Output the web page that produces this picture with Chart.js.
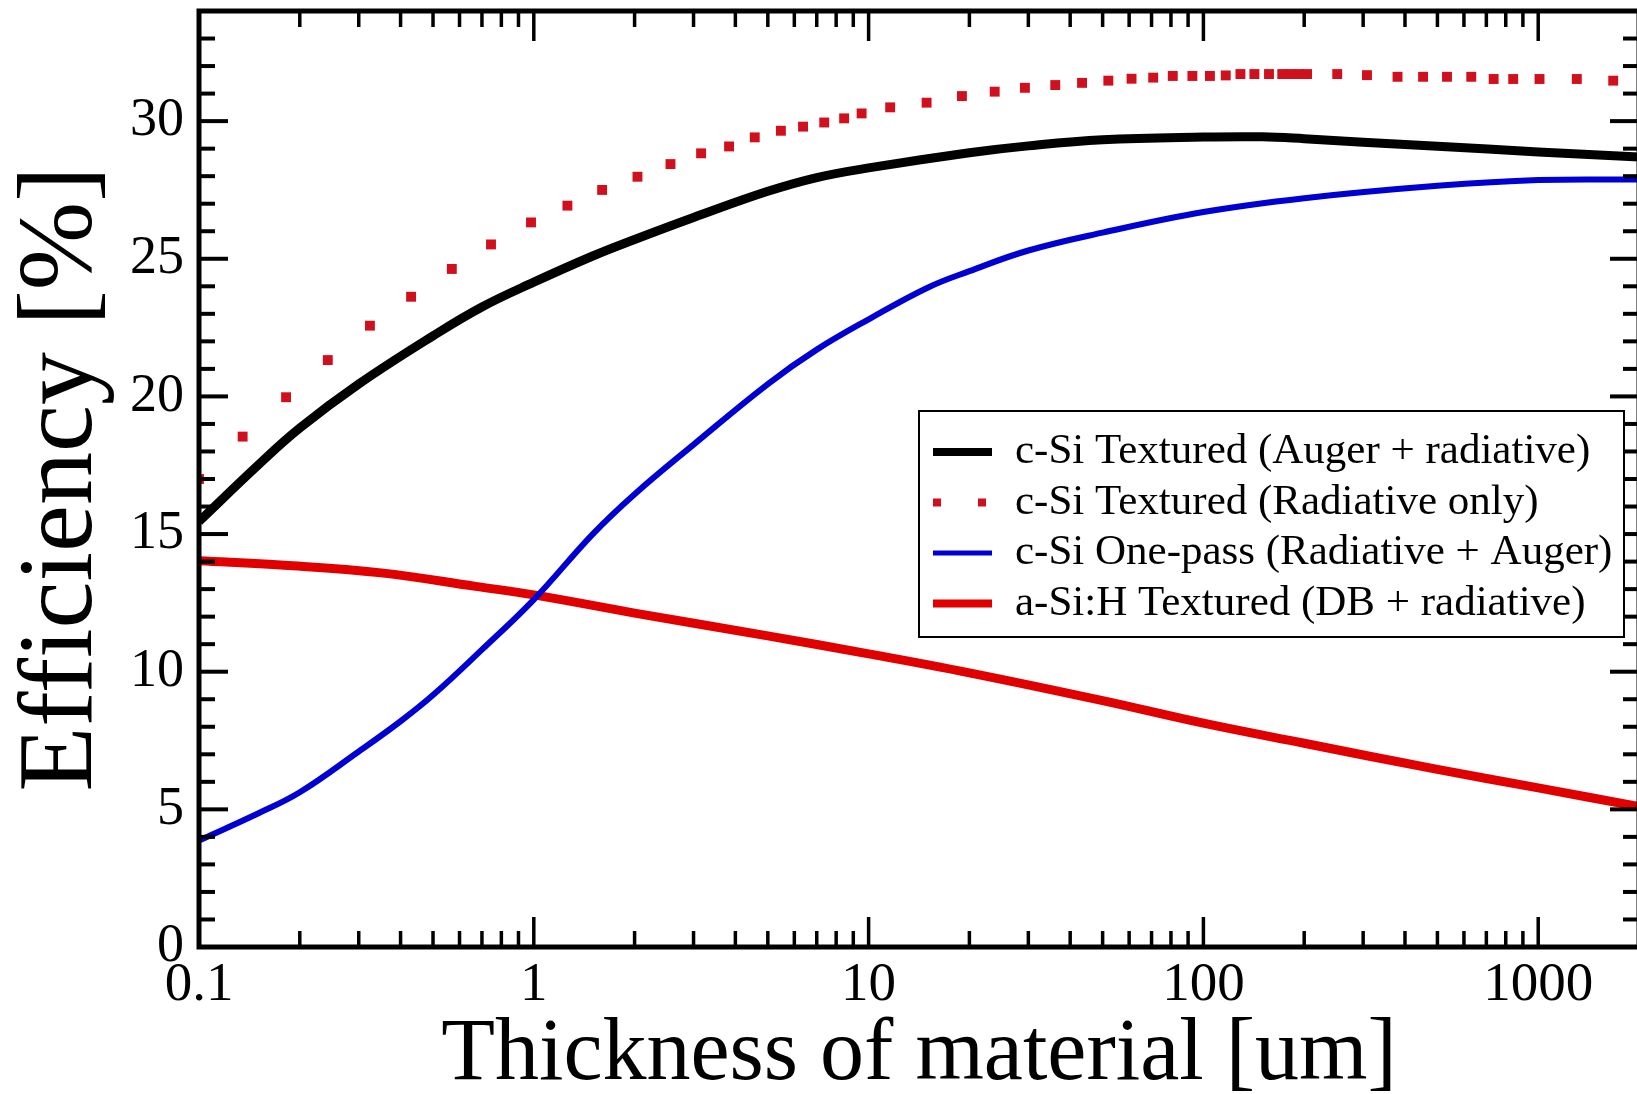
<!DOCTYPE html>
<html>
<head>
<meta charset="utf-8">
<title>Efficiency vs thickness of material</title>
<script src="https://cdn.jsdelivr.net/npm/chart.js@4.4.1/dist/chart.umd.min.js"></script>
<style>
  html, body { margin: 0; padding: 0; background: #fff; overflow: hidden; }
  #wrap { width: 1646px; height: 1094px; }
</style>
</head>
<body>
<div id="wrap"><canvas id="effChart" width="1646" height="1094"></canvas></div>
<script>
// tick labels
const xTicks = [0.1, 1, 10, 100, 1000];
const yTicks = [0, 5, 10, 15, 20, 25, 30];

// c-Si Textured (Auger + radiative)
const augerX = [0.1, 0.15, 0.2, 0.3, 0.5, 0.7, 1, 1.5, 2, 3, 5, 7, 10, 20, 30, 50, 100, 150, 200, 300, 500, 1000, 2000];
const augerY = [15.46, 17.5, 18.85, 20.45, 22.2, 23.25, 24.15, 25.1, 25.7, 26.5, 27.45, 27.95, 28.3, 28.85, 29.1, 29.32, 29.42, 29.43, 29.36, 29.23, 29.09, 28.88, 28.7];

// c-Si Textured (Radiative only), one entry per dot
const radX = [0.1, 0.135, 0.182, 0.2425, 0.324, 0.43, 0.569, 0.745, 0.981, 1.26, 1.6, 2.04, 2.56, 3.16, 3.83,
  4.57, 5.47, 6.37, 7.37, 8.45, 9.53, 11.6, 14.9, 19, 23.8, 29.3, 36.1, 43.4, 52, 61, 70.8, 81, 92.7,
  104.6, 116.6, 129, 142, 157, 172, 182, 193, 204, 251, 308, 380, 453, 534, 631, 736, 842, 1009, 1304, 1675];
const radY = [17.0, 18.54, 19.97, 21.32, 22.57, 23.62, 24.63, 25.52, 26.32, 26.93, 27.5, 27.98, 28.44, 28.83, 29.08,
  29.41, 29.65, 29.8, 29.95, 30.1, 30.28, 30.5, 30.67, 30.91, 31.07, 31.21, 31.31, 31.39, 31.47, 31.54, 31.58, 31.64, 31.64,
  31.64, 31.66, 31.71, 31.71, 31.71, 31.71, 31.71, 31.71, 31.71, 31.71, 31.67, 31.61, 31.61, 31.61, 31.61, 31.53, 31.53, 31.53, 31.53, 31.47];

// c-Si One-pass (Radiative + Auger)
const onePassX = [0.1, 0.15, 0.2, 0.3, 0.4, 0.5, 0.7, 1, 1.5, 2, 3, 5, 7, 10, 15, 20, 30, 50, 100, 200, 500, 1000, 2000];
const onePassY = [3.87, 4.85, 5.62, 7.1, 8.2, 9.15, 10.8, 12.62, 15.0, 16.45, 18.25, 20.45, 21.7, 22.8, 23.95, 24.55, 25.3, 25.95, 26.7, 27.2, 27.65, 27.86, 27.88];

// a-Si:H Textured (DB + radiative)
const aSiX = [0.1, 0.18, 0.35, 0.67, 1, 2, 5, 10, 20, 50, 100, 200, 500, 1000, 2000];
const aSiY = [14.03, 13.87, 13.59, 13.1, 12.79, 12.13, 11.3, 10.65, 9.96, 8.95, 8.13, 7.4, 6.45, 5.78, 5.1];

const toPoints = (xs, ys) => xs.map((x, i) => ({ x: x, y: ys[i] }));

const serif = "'Liberation Serif', 'Times New Roman', serif";

// frame with inward ticks on all four sides, xmgrace style
const frameTicks = {
  id: "frameTicks",
  afterDatasetsDraw(chart) {
    const { ctx, chartArea: a, scales } = chart;
    const xs = scales.x;
    const ys = scales.y;
    const seg = (x1, y1, x2, y2) => {
      ctx.beginPath();
      ctx.moveTo(x1, y1);
      ctx.lineTo(x2, y2);
      ctx.stroke();
    };
    ctx.save();
    ctx.strokeStyle = "#000";
    ctx.lineCap = "butt";

    ctx.lineWidth = 4;
    for (let v = ys.min; v <= ys.max; v++) {
      const py = ys.getPixelForValue(v);
      const len = v % 5 === 0 ? 29 : 16;
      seg(a.left, py, a.left + len, py);
      seg(a.right, py, a.right - len, py);
    }

    ctx.lineWidth = 3.5;
    xTicks.forEach((d) => {
      for (let k = 1; k <= 9; k++) {
        const v = d * k;
        if (v > xs.max) break;
        const px = xs.getPixelForValue(v);
        const len = k === 1 ? 30 : 16;
        seg(px, a.bottom, px, a.bottom - len);
        seg(px, a.top, px, a.top + len);
      }
    });

    ctx.lineWidth = 5;
    ctx.strokeRect(a.left, a.top, a.right - a.left, a.bottom - a.top);
    ctx.restore();
  },
};

// boxed legend inside the plot
const legendBox = {
  id: "legendBox",
  afterDraw(chart) {
    const ctx = chart.ctx;
    const left = 919, top = 411, width = 705, height = 226;
    ctx.save();
    ctx.fillStyle = "#fff";
    ctx.fillRect(left, top, width, height);
    ctx.lineWidth = 2;
    ctx.strokeStyle = "#000";
    ctx.strokeRect(left, top, width, height);
    ctx.font = "43px " + serif;
    ctx.textBaseline = "middle";
    chart.data.datasets.forEach((ds, i) => {
      const y = top + 41 + i * 50.5;
      if (ds.showLine === false) {
        ctx.fillStyle = ds.pointBackgroundColor;
        [937, 982].forEach((cx) => ctx.fillRect(cx - 4, y - 4, 8, 8));
      } else {
        ctx.strokeStyle = ds.borderColor;
        ctx.lineWidth = ds.borderWidth - 1;
        ctx.beginPath();
        ctx.moveTo(933, y);
        ctx.lineTo(992, y);
        ctx.stroke();
      }
      ctx.fillStyle = "#000";
      ctx.fillText(ds.label, 1015, y);
    });
    ctx.restore();
  },
};

const ctx = document.getElementById("effChart").getContext("2d");
new Chart(ctx, {
  type: "line",
  data: {
    datasets: [
      {
        label: "c-Si Textured (Auger + radiative)",
        data: toPoints(augerX, augerY),
        borderColor: "#000000",
        borderWidth: 9,
        pointRadius: 0,
        tension: 0.4,
      },
      {
        label: "c-Si Textured (Radiative only)",
        data: toPoints(radX, radY),
        showLine: false,
        pointStyle: "rect",
        pointRadius: 7,
        pointBorderWidth: 0,
        pointBackgroundColor: "#d0101c",
        borderColor: "#d0101c",
      },
      {
        label: "c-Si One-pass (Radiative + Auger)",
        data: toPoints(onePassX, onePassY),
        borderColor: "#0000d2",
        borderWidth: 6,
        pointRadius: 0,
        tension: 0.4,
      },
      {
        label: "a-Si:H Textured (DB + radiative)",
        data: toPoints(aSiX, aSiY),
        borderColor: "#e00000",
        borderWidth: 9,
        pointRadius: 0,
        tension: 0.4,
      },
    ],
  },
  options: {
    responsive: false,
    animation: false,
    devicePixelRatio: 1,
    layout: { padding: { top: 0, right: 3, left: 0, bottom: 0 } },
    plugins: {
      legend: { display: false },
      tooltip: { enabled: false },
    },
    scales: {
      x: {
        type: "logarithmic",
        position: "bottom",
        min: 0.1,
        max: 2000,
        afterBuildTicks: (scale) => {
          scale.ticks = xTicks.map((v) => ({ value: v }));
        },
        afterFit: (scale) => {
          scale.height = 147;
        },
        grid: { display: false, drawTicks: false },
        border: { display: false },
        ticks: {
          autoSkip: false,
          maxRotation: 0,
          padding: 6,
          color: "#000",
          font: { family: serif, size: 55 },
          callback: (v) => String(v),
        },
        title: {
          display: true,
          text: "Thickness of material [um]",
          color: "#000",
          font: { family: serif, size: 88, lineHeight: 0.86 },
          padding: 0,
        },
      },
      y: {
        type: "linear",
        min: 0,
        max: 34,
        afterBuildTicks: (scale) => {
          scale.ticks = yTicks.map((v) => ({ value: v }));
        },
        afterFit: (scale) => {
          scale.width = 199;
          scale.paddingTop = 11;
          scale.paddingBottom = 0;
        },
        grid: { display: false, drawTicks: false },
        border: { display: false },
        ticks: {
          padding: 15,
          color: "#000",
          font: { family: serif, size: 54 },
        },
        title: {
          display: true,
          text: "Efficiency [%]",
          color: "#000",
          font: { family: serif, size: 106, lineHeight: 1.2 },
          padding: 0,
        },
      },
    },
  },
  plugins: [frameTicks, legendBox],
});
</script>
</body>
</html>
